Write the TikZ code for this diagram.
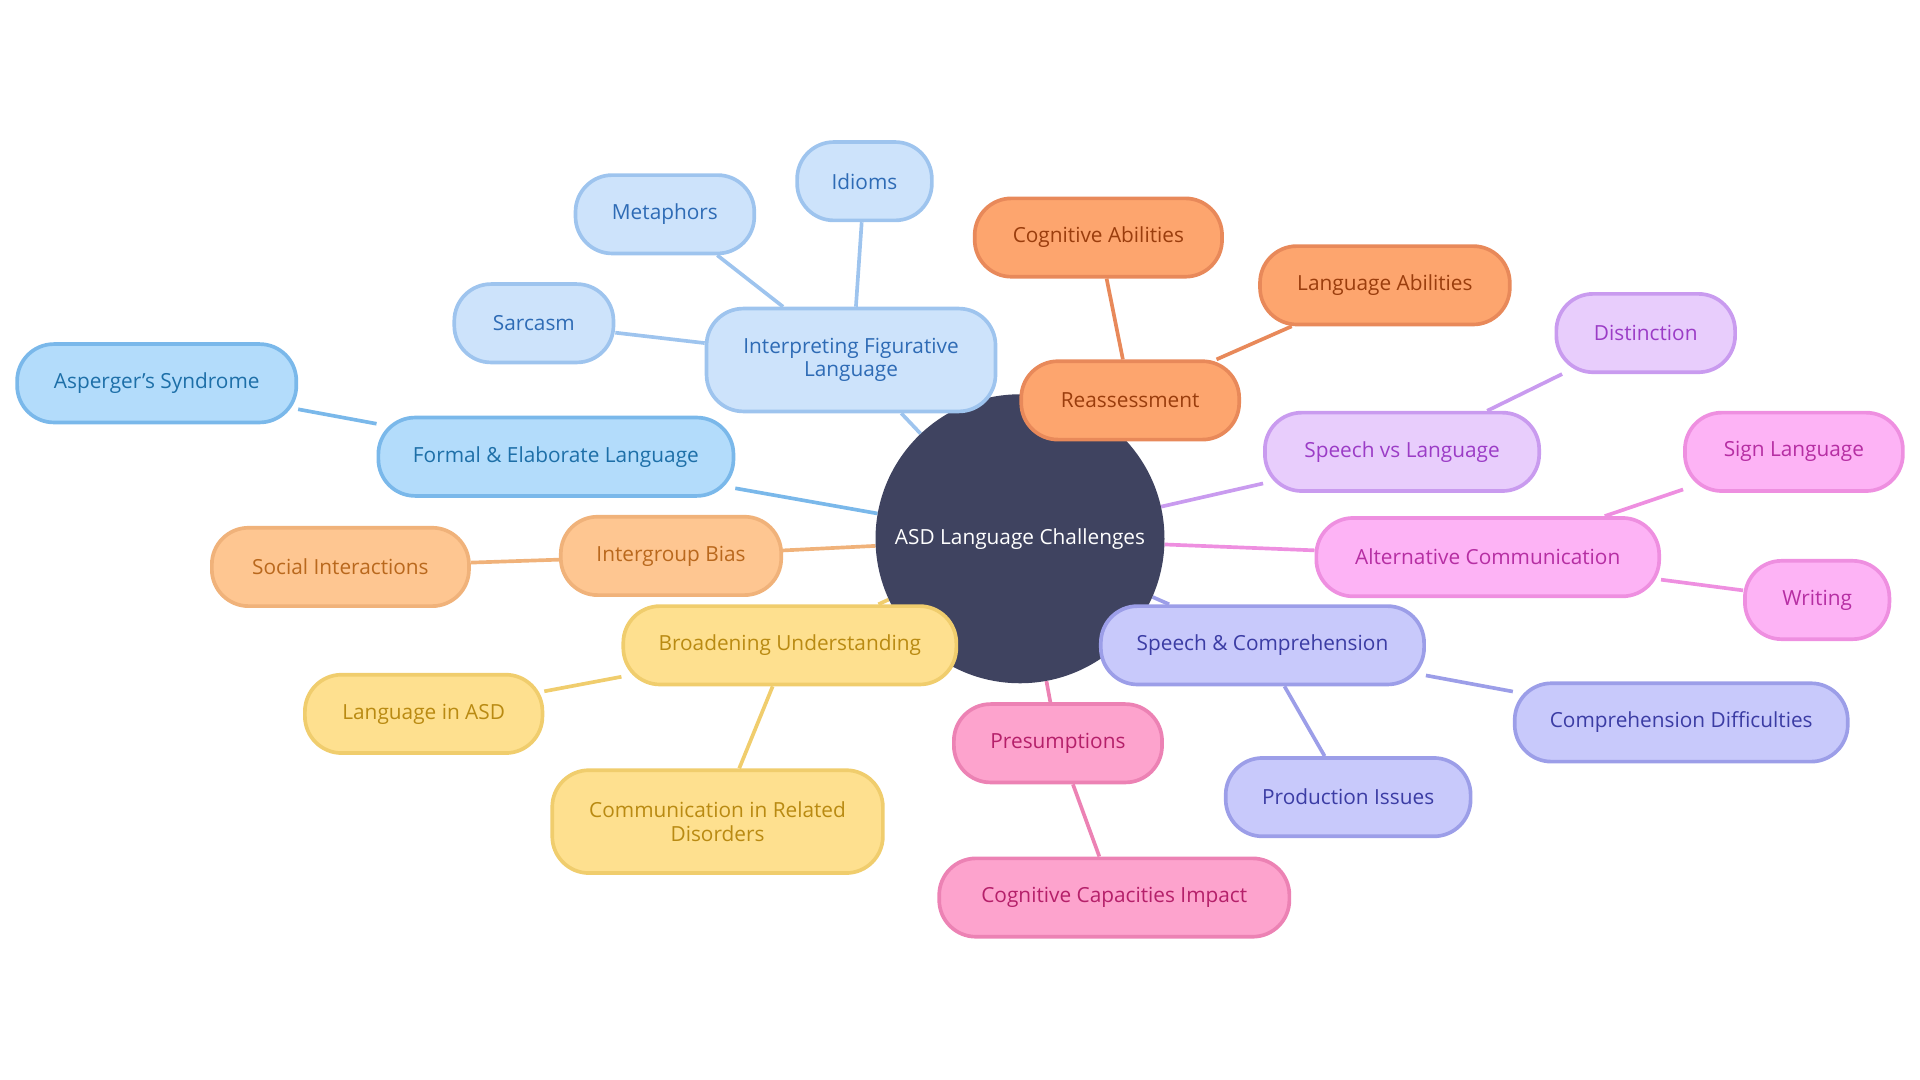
\documentclass[tikz,border=0pt]{standalone}
\usepackage{fontspec}
\setmainfont{Open Sans}
\usetikzlibrary{backgrounds}
\definecolor{hub}{HTML}{3F4360}
\definecolor{fA}{HTML}{B3DCFB}\definecolor{bA}{HTML}{7AB8EA}\definecolor{tA}{HTML}{1D6FA8}
\definecolor{fB}{HTML}{CDE3FB}\definecolor{bB}{HTML}{9EC4EE}\definecolor{tB}{HTML}{2E6BB5}
\definecolor{fC}{HTML}{FDA56E}\definecolor{bC}{HTML}{E8895A}\definecolor{tC}{HTML}{9A3D0D}
\definecolor{fD}{HTML}{E8CDFC}\definecolor{bD}{HTML}{C99BEF}\definecolor{tD}{HTML}{9B3CC6}
\definecolor{fE}{HTML}{FDB3F5}\definecolor{bE}{HTML}{EE8FE0}\definecolor{tE}{HTML}{B62EA3}
\definecolor{fF}{HTML}{C8C9FB}\definecolor{bF}{HTML}{9C9EE8}\definecolor{tF}{HTML}{3B3CA4}
\definecolor{fG}{HTML}{FDA3CD}\definecolor{bG}{HTML}{EC82B4}\definecolor{tG}{HTML}{B5206A}
\definecolor{fH}{HTML}{FEE08F}\definecolor{bH}{HTML}{F0CD6D}\definecolor{tH}{HTML}{B98A12}
\definecolor{fI}{HTML}{FEC691}\definecolor{bI}{HTML}{F0B27A}\definecolor{tI}{HTML}{B9681D}
\tikzset{
 box/.style={draw, line width=3pt, rounded corners=30pt, minimum height=64pt, align=center, font=\fontsize{17}{19}\selectfont, inner sep=0pt},
 kA/.style={box, fill=fA, draw=bA, text=tA}, kB/.style={box, fill=fB, draw=bB, text=tB},
 kC/.style={box, fill=fC, draw=bC, text=tC}, kD/.style={box, fill=fD, draw=bD, text=tD},
 kE/.style={box, fill=fE, draw=bE, text=tE}, kF/.style={box, fill=fF, draw=bF, text=tF},
 kG/.style={box, fill=fG, draw=bG, text=tG}, kH/.style={box, fill=fH, draw=bH, text=tH},
 kI/.style={box, fill=fI, draw=bI, text=tI},
 ln/.style={line width=3pt}
}
\begin{document}
\begin{tikzpicture}[x=1pt,y=-1pt]
\useasboundingbox (0,0) rectangle (1568,882);
\node[circle, fill=hub, minimum size=236pt, text=white, font=\fontsize{17}{19}\selectfont, inner sep=0pt] (c) at (833,440) {ASD Language Challenges};
\node[kA, minimum width=290pt] (fel) at (454,373) {Formal \& Elaborate Language};
\node[kA, minimum width=228pt] (asp) at (128,313) {Asperger's Syndrome};
\node[kB, minimum width=236pt, minimum height=84pt] (ifl) at (695,294) {Interpreting Figurative\\Language};
\node[kB, minimum width=130pt] (sar) at (436,264) {Sarcasm};
\node[kB, minimum width=146pt] (met) at (543,175) {Metaphors};
\node[kB, minimum width=110pt] (idi) at (706,148) {Idioms};
\node[kC, minimum width=178pt] (rea) at (923,327) {Reassessment};
\node[kC, minimum width=202pt] (cog) at (897,194) {Cognitive Abilities};
\node[kC, minimum width=204pt] (lab) at (1131,233) {Language Abilities};
\node[kD, minimum width=224pt] (svl) at (1145,369) {Speech vs Language};
\node[kD, minimum width=146pt] (dis) at (1344,272) {Distinction};
\node[kE, minimum width=280pt] (alt) at (1215,455) {Alternative Communication};
\node[kE, minimum width=178pt] (sig) at (1465,369) {Sign Language};
\node[kE, minimum width=118pt] (wri) at (1484,490) {Writing};
\node[kF, minimum width=264pt] (spc) at (1031,527) {Speech \& Comprehension};
\node[kF, minimum width=272pt] (cd) at (1373,590) {Comprehension Difficulties};
\node[kF, minimum width=200pt] (pi) at (1101,651) {Production Issues};
\node[kG, minimum width=170pt] (pre) at (864,607) {Presumptions};
\node[kG, minimum width=286pt] (cci) at (910,733) {Cognitive Capacities Impact};
\node[kH, minimum width=272pt] (bu) at (645,527) {Broadening Understanding};
\node[kH, minimum width=194pt] (las) at (346,583) {Language in ASD};
\node[kH, minimum width=270pt, minimum height=84pt] (crd) at (586,671) {Communication in Related\\Disorders};
\node[kI, minimum width=180pt] (ib) at (548,454) {Intergroup Bias};
\node[kI, minimum width=210pt] (si) at (278,463) {Social Interactions};
\begin{scope}[on background layer]
\draw[ln, bA] (c) -- (fel) (fel) -- (asp);
\draw[ln, bB] (c) -- (ifl) (ifl) -- (sar) (ifl.north west)++(64,0) -- (met) (ifl.north)++(4,0) -- (idi);
\draw[ln, bC] (c) -- (rea) (rea.north)++(-6,0) -- (cog) (rea.north east)++(-20,0) -- (lab);
\draw[ln, bD] (c) -- (svl) (svl.north east)++(-44,0) -- (dis);
\draw[ln, bE] (c) -- (alt) (alt.north east)++(-46,0) -- (sig) (alt) -- (wri);
\draw[ln, bF] (c) -- (spc) (spc) -- (cd) (spc.south)++(18,0) -- (pi);
\draw[ln, bG] (c) -- (pre) (pre) -- (cci);
\draw[ln, bH] (c) -- (bu) (bu) -- (las) (bu.south)++(-14,0) -- (crd);
\draw[ln, bI] (c) -- (ib) (ib) -- (si);
\end{scope}
\end{tikzpicture}
\end{document}
